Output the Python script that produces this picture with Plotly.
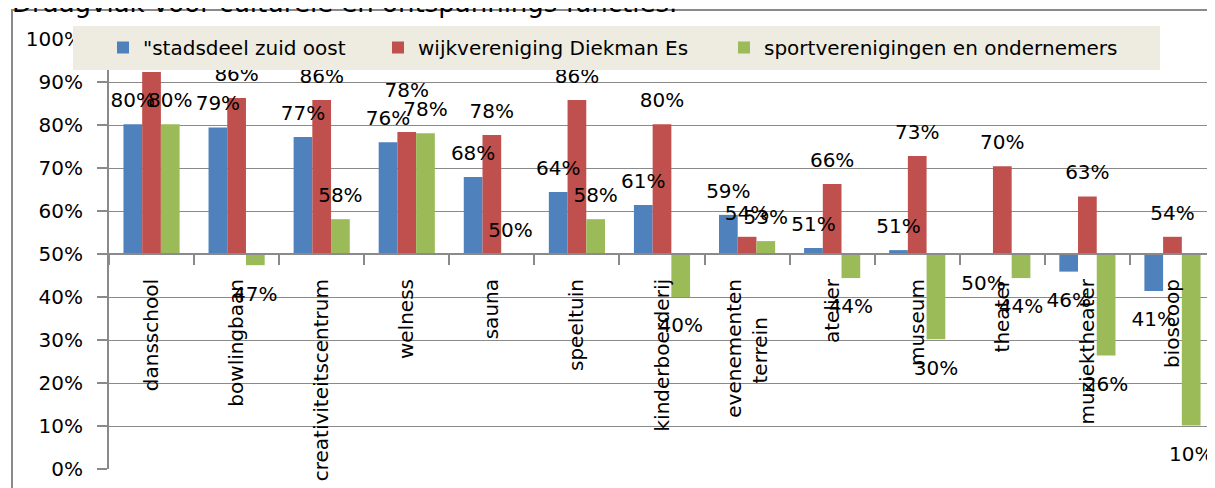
import plotly.graph_objects as go

# ---------------- data ----------------
categories = ["dansschool", "bowlingbaan", "creativiteitscentrum", "welness", "sauna",
              "speeltuin", "kinderboerderij", "evenementen terrein", "atelier", "museum",
              "theater", "muziektheater", "bioscoop"]
NB = "\u00a0"
tick_labels = ["dansschool", "bowlingbaan", "creativiteitscentrum", "welness", "sauna",
               "speeltuin", "kinderboerderij", "evenementen<br>terrein" + NB * 6, "atelier",
               "museum", "theater", "muziektheater", "bioscoop"]
stadsdeel = [80.2, 79.4, 77.2, 76.0, 67.9, 64.4, 61.4, 59.1, 51.4, 50.9, 49.8, 45.9, 41.4]
wijkvereniging = [92.3, 86.3, 85.8, 78.4, 77.7, 85.8, 80.2, 54.0, 66.3, 72.8, 70.4, 63.4, 54.0]
sport = [80.2, 47.4, 58.1, 78.1, 50.0, 58.1, 40.0, 53.0, 44.4, 30.2, 44.4, 26.4, 10.1]
series_names = ['"stadsdeel zuid oost', "wijkvereniging Diekman Es",
                "sportverenigingen en ondernemers"]
title_text = "Draagvlak voor culturele en ontspannings functies."
y_ticks = [0, 10, 20, 30, 40, 50, 60, 70, 80, 90, 100]
BASE = 50

# ---------------- style / layout ----------------
colors = ["#4F81BD", "#C0504D", "#9BBB59"]
FONT = "DejaVu Sans"
GRID = "#8a8a8a"
OFF = 8                      # page body margin offset
W, H = 1215 - OFF, 488 - OFF
L, R, T, B = 109 - OFF, 0, 39 - OFF, 19
PW, PH = W - L - R, H - T - B

# spacing (marker size of the invisible anchor) between a bar end and its label
LABEL_GAP_UP, LABEL_GAP_DOWN = 18, 31
label_gap_override = {(1, "welness"): 46}   # label sitting higher in the original


def paper_x(page_px):
    return (page_px - OFF - L) / PW


def paper_y(page_py):
    return (H - B - (page_py - OFF)) / PH


series = [stadsdeel, wijkvereniging, sport]
legend_keys = ["legend", "legend2", "legend3"]
legend_page_x = [103, 378, 724]

fig = go.Figure()
for i, vals in enumerate(series):
    fig.add_trace(go.Bar(
        x=categories, y=[v - BASE for v in vals], base=BASE,
        name=series_names[i], marker=dict(color=colors[i], line=dict(width=0)),
        legend=legend_keys[i], hoverinfo="skip",
    ))
for i, vals in enumerate(series):
    up = [v >= BASE for v in vals]
    sizes = [label_gap_override.get((i, c), LABEL_GAP_UP if u else LABEL_GAP_DOWN)
             for c, u in zip(categories, up)]
    fig.add_trace(go.Scatter(
        x=categories, y=vals, mode="markers+text",
        text=[f"{round(v)}%" for v in vals],
        textposition=["top center" if u else "bottom center" for u in up],
        marker=dict(size=sizes, opacity=0),
        textfont=dict(family=FONT, size=20, color="black"),
        showlegend=False, cliponaxis=False, hoverinfo="skip",
    ))

layout_legends = {}
for i, key in enumerate(legend_keys):
    layout_legends[key] = dict(
        x=(legend_page_x[i] - OFF) / W, xref="container", xanchor="left",
        y=1 - (47.5 - OFF) / H, yref="container", yanchor="middle",
        orientation="h", bgcolor="rgba(0,0,0,0)", itemwidth=30,
        font=dict(family=FONT, size=20, color="black"),
    )

fig.update_layout(
    template="none",
    width=W, height=H,
    margin=dict(l=L, r=R, t=T, b=B, pad=0, autoexpand=False),
    paper_bgcolor="white", plot_bgcolor="white",
    barmode="group", bargap=0.34, bargroupgap=0,
    scattermode="group",
    showlegend=True,
    title=dict(text=title_text, x=4 / W, xref="container", xanchor="left",
               y=1 - 4 / H, yref="container", yanchor="bottom",
               font=dict(family=FONT, size=26, color="black")),
    xaxis=dict(
        type="category", anchor="free", position=0.5,
        tickmode="array", tickvals=categories, ticktext=tick_labels,
        tickangle=-90, tickfont=dict(family=FONT, size=20, color="black"),
        ticks="outside", ticklen=10, tickwidth=1.5, tickcolor=GRID, tickson="boundaries",
        ticklabelstandoff=16,
        showline=True, linecolor=GRID, linewidth=2, showgrid=False,
        automargin=False, fixedrange=True,
    ),
    yaxis=dict(
        range=[0, 100], tickmode="array", tickvals=y_ticks,
        ticktext=[f"{t}%" for t in y_ticks],
        tickfont=dict(family=FONT, size=20, color="black"),
        ticks="outside", ticklen=10, tickwidth=1.5, tickcolor=GRID,
        ticklabelstandoff=10,
        showline=True, linecolor=GRID, linewidth=2,
        showgrid=True, gridcolor=GRID, gridwidth=1.3, zeroline=False,
        automargin=False, fixedrange=True,
    ),
    shapes=[
        # chart frame
        dict(type="rect", xref="paper", yref="paper",
             x0=paper_x(12), x1=paper_x(1215 + 20), y0=paper_y(488 + 20), y1=paper_y(10),
             line=dict(color=GRID, width=2), fillcolor="rgba(0,0,0,0)", layer="below"),
        # legend box
        dict(type="rect", xref="paper", yref="paper",
             x0=paper_x(73), x1=paper_x(1160), y0=paper_y(70), y1=paper_y(26),
             line=dict(width=0), fillcolor="#EEECE1", layer="above"),
    ],
    **layout_legends,
)

fig.write_html("out.html")
